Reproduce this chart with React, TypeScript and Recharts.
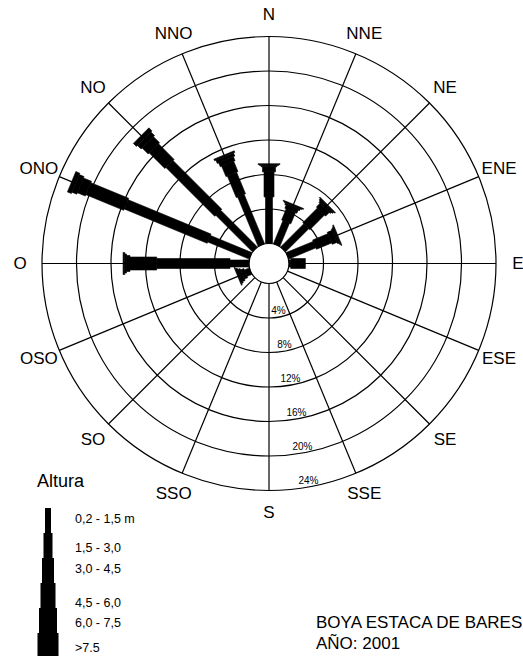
import React from "react";
import {
  RadarChart,
  Radar,
  PolarGrid,
  PolarAngleAxis,
  PolarRadiusAxis,
} from "recharts";

// direcciones (sentido horario desde el norte)
const directions = [
  "N", "NNE", "NE", "ENE", "E", "ESE", "SE", "SSE",
  "S", "SSO", "SO", "OSO", "O", "ONO", "NO", "NNO",
];

// frecuencia (%) por clase de altura y dirección
const h02_15 = [5.4, 2.9, 3.8, 3.4, 0.2, 0, 0, 0, 0, 0, 0, 0.6, 2.2, 5.2, 6.0, 6.2];
const h15_30 = [2.9, 1.4, 2.4, 1.9, 1.7, 0, 0, 0, 0, 0, 0, 0.4, 8.5, 10.4, 8.0, 2.7];
const h30_45 = [0.6, 0.4, 0.6, 0.6, 0, 0, 0, 0, 0, 0, 0, 0.3, 3.1, 4.75, 2.55, 1.3];
const h45_60 = [0.15, 0.2, 0.2, 0.2, 0, 0, 0, 0, 0, 0, 0, 0.2, 0.4, 1.0, 1.0, 0.5];
const h60_75 = [0.1, 0.1, 0.2, 0.1, 0, 0, 0, 0, 0, 0, 0, 0.1, 0.2, 0.6, 0.6, 0.4];
const h75 = [0.1, 0.1, 0.1, 0.1, 0, 0, 0, 0, 0, 0, 0, 0, 0.2, 0.5, 0.5, 0.2];

const classLabels = ["0,2 - 1,5 m", "1,5 - 3,0", "3,0 - 4,5", "4,5 - 6,0", "6,0 - 7,5", ">7.5"];
const radiusTicks = [0, 4, 8, 12, 16, 20, 24];

const series = [h02_15, h15_30, h30_45, h45_60, h60_75, h75];
const barWidths = [7, 10, 13, 16, 19, 22];
const legendWidths = [6, 9, 12, 15, 18, 21];
const legendTops = [518, 547, 568, 602, 622, 647];

const CX = 269;
const CY = 263.5;
const INNER = 20;
const OUTER = 227;
const FONT = "'Liberation Sans', Arial, sans-serif";

// tabla con rangos acumulados [desde, hasta] para cada clase
const data = directions.map((dir, i) => {
  const row: any = { dir };
  let acc = 0;
  series.forEach((s, k) => {
    row["c" + k] = [acc, acc + s[i]];
    acc += s[i];
  });
  return row;
});

const barShape = (w: number) => (props: any) => {
  const { points, baseLinePoints } = props;
  return (
    <g>
      {points.map((p: any, i: number) => {
        let b = baseLinePoints && baseLinePoints[i];
        if (!b) {
          const [lo, hi] = p.value;
          if (!hi) return null;
          const r = INNER + ((p.radius - INNER) * lo) / hi;
          const a = (-p.angle * Math.PI) / 180;
          b = { x: p.cx + r * Math.cos(a), y: p.cy + r * Math.sin(a), radius: r };
        }
        if (p.radius - b.radius < 0.05) return null;
        const a = (-p.angle * Math.PI) / 180;
        const nx = (-Math.sin(a) * w) / 2;
        const ny = (Math.cos(a) * w) / 2;
        const pts = [
          [b.x + nx, b.y + ny],
          [p.x + nx, p.y + ny],
          [p.x - nx, p.y - ny],
          [b.x - nx, b.y - ny],
        ];
        return (
          <polygon
            key={i}
            points={pts.map((q) => q.join(",")).join(" ")}
            fill="#000"
            stroke="#000"
            strokeWidth={0.6}
            strokeLinejoin="miter"
          />
        );
      })}
    </g>
  );
};

const AngleTick = ({ x, y, payload }: any) => (
  <text x={x} y={y} textAnchor="middle" dominantBaseline="central" fontSize={17} fontFamily={FONT} fill="#000">
    {payload.value}
  </text>
);

const RadiusTick = ({ x, y, payload }: any) =>
  payload.value === 0 ? null : (
    <text x={x} y={y - 3} textAnchor="middle" fontSize={10} fontFamily={FONT} fill="#000">
      {payload.value + "%"}
    </text>
  );

export default function App() {
  return (
    <div style={{ position: "absolute", left: 0, top: 0, width: 523, height: 656, background: "#fff", fontFamily: FONT }}>
      <RadarChart
        width={523}
        height={656}
        data={data}
        cx={CX}
        cy={CY}
        innerRadius={INNER}
        outerRadius={OUTER}
        margin={{ top: 0, right: 0, bottom: 0, left: 0 }}
      >
        <PolarGrid gridType="circle" stroke="#000" strokeWidth={1.2} strokeOpacity={1} />
        <PolarAngleAxis dataKey="dir" tick={<AngleTick />} tickLine={false} tickSize={22} axisLine={false} />
        <PolarRadiusAxis
          angle={-80}
          domain={[0, 24]}
          ticks={radiusTicks}
          tick={<RadiusTick />}
          tickLine={false}
          axisLine={false}
        />
        {series.map((_, k) => (
          <Radar
            key={k}
            dataKey={"c" + k}
            isAnimationActive={false}
            shape={barShape(barWidths[k])}
            dot={false}
          />
        ))}
      </RadarChart>

      <div style={{ position: "absolute", left: 37, top: 471, fontSize: 18 }}>Altura</div>
      <svg style={{ position: "absolute", left: 0, top: 0 }} width={150} height={656}>
        {legendWidths.map((w, k) => (
          <rect key={k} x={48 - w / 2} y={508 + k * 25} width={w} height={k === 5 ? 24 : 25} fill="#000" />
        ))}
        {classLabels.map((t, k) => (
          <text key={t} x={75} y={legendTops[k] + 4.5} fontSize={12.5} fontFamily={FONT} fill="#000">
            {t}
          </text>
        ))}
      </svg>
      <div style={{ position: "absolute", left: 316, top: 612, fontSize: 17, lineHeight: "21px" }}>
        BOYA ESTACA DE BARES
        <br />
        AÑO: 2001
      </div>
    </div>
  );
}
